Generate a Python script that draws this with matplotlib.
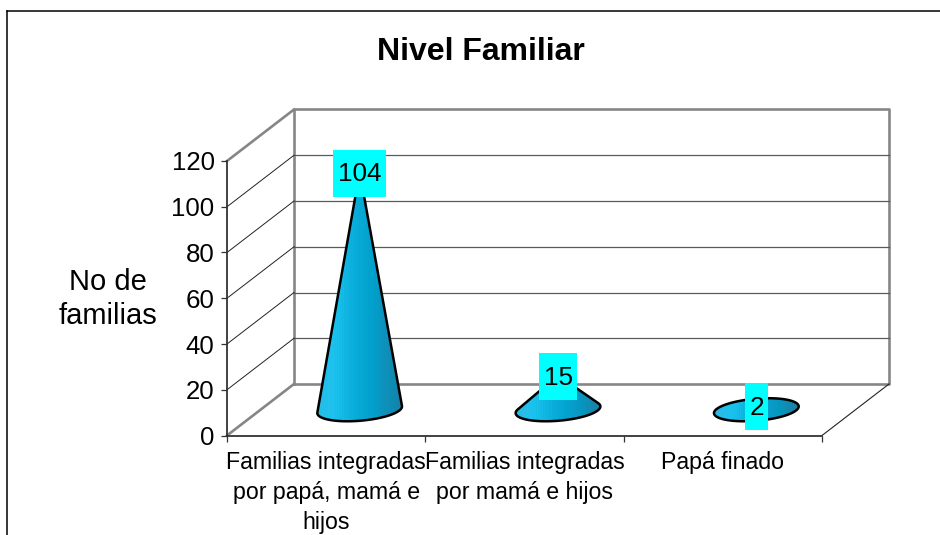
import numpy as np
import matplotlib
matplotlib.use('Agg')
import matplotlib.pyplot as plt
from matplotlib.colors import LinearSegmentedColormap
from matplotlib.lines import Line2D
from matplotlib.patches import Polygon, Rectangle

categories = ['Familias integradas\npor papá, mamá e\nhijos',
              'Familias integradas\npor mamá e hijos',
              'Papá finado']
values = [104, 15, 2]
y_ticks = [0, 20, 40, 60, 80, 100, 120]
title = 'Nivel Familiar'
y_label = 'No de\nfamilias'

W, H = 940, 535
plt.rcParams['font.family'] = ['Liberation Sans', 'DejaVu Sans']

fig = plt.figure(figsize=(W / 100, H / 100), dpi=100, facecolor='white')
# front plane of the fake 3d box
ax = fig.add_axes([227 / W, (H - 435.5) / H, 595 / W, 274.5 / H])
ax.set_xlim(0, 3)
ax.set_ylim(0, 120)
ax.patch.set_alpha(0)

# pixels per data unit, and depth of the box in data units
px_x = 595 / 3
px_y = 274.5 / 120
depth_x = 67 / px_x
depth_y = 51.5 / px_y

GRAY = '#868686'

# outer frame, cut by the picture on the right and at the bottom
fig.add_artist(Line2D([7.5 / W, 7.5 / W], [0, 1 - 10.5 / H], color='black', lw=1.1))
fig.add_artist(Line2D([7.5 / W, 1], [1 - 10.5 / H, 1 - 10.5 / H], color='black', lw=1.1))


def wall(xs, ys, color=GRAY, lw=1.9, z=1):
    ax.plot(xs, ys, color=color, lw=lw, clip_on=False, zorder=z, solid_capstyle='projecting')


# back wall and floor
wall([depth_x, depth_x, 3 + depth_x, 3 + depth_x, depth_x],
     [depth_y, 120 + depth_y, 120 + depth_y, depth_y, depth_y])
wall([0, depth_x], [120, 120 + depth_y])
wall([0, depth_x], [0, depth_y])
wall([3, 3 + depth_x], [0, depth_y], color='#222222', lw=0.8)

# gridlines on the back wall and the side wall
for t in y_ticks[1:-1]:
    wall([depth_x, 3 + depth_x], [t + depth_y, t + depth_y], color='#5a5a5a', lw=0.9)
    wall([0, depth_x], [t, t + depth_y], color='#222222', lw=0.7)

cone_cmap = LinearSegmentedColormap.from_list(
    'cone', ['#2cb9e2', '#1cc4f0', '#0cb0dc', '#02a4d0', '#0a93bd', '#1b7fa3'])

a_px, b_px = 42.5, 11.0
tilt = np.radians(4.8)
t_par = np.radians(np.arange(90, 451, 2))

for i, v in enumerate(values):
    cx = i + 0.5 + depth_x / 2
    cy = depth_y / 2
    ex = a_px * np.cos(t_par) * np.cos(tilt) - b_px * np.sin(t_par) * np.sin(tilt)
    ey = a_px * np.cos(t_par) * np.sin(tilt) + b_px * np.sin(t_par) * np.cos(tilt)
    tip_h = v * px_y
    if tip_h > b_px * 1.2:
        ang = np.arctan2(ex, tip_h - ey)
        i0, i1 = np.argmin(ang), np.argmax(ang)
        ox = np.r_[ex[i0:i1 + 1], 0]
        oy = np.r_[ey[i0:i1 + 1], tip_h]
    else:
        ox, oy = ex, ey
    pts = np.c_[cx + ox / px_x, cy + oy / px_y]

    shape = Polygon(pts, closed=True, transform=ax.transData, fc='none',
                    ec='black', lw=1.8, joinstyle='round', zorder=4, clip_on=False)
    u = np.linspace(0, 1, 340)
    # fine vertical streaks like the original gradient bands
    shade = np.clip(u + 0.06 * np.sin(u * 2 * np.pi * 38), 0, 1)
    im = ax.imshow(shade[None, :], cmap=cone_cmap, vmin=0, vmax=1, aspect='auto',
                   extent=[pts[:, 0].min(), pts[:, 0].max(), pts[:, 1].min(), pts[:, 1].max()],
                   zorder=3, interpolation='bilinear')
    ax.add_patch(shape)
    im.set_clip_path(shape)

    # value label on its cyan box, sitting on the tip
    box_w = (8 + 15 * len(str(v))) / px_x
    box_h = 47 / px_y
    lx, ly = cx, cy + v - 1.5 / px_y
    ax.add_patch(Rectangle((lx - box_w / 2, ly - box_h / 2), box_w, box_h, fc='#00ffff',
                           ec='none', zorder=5, clip_on=False))
    ax.text(lx + 0.5 / px_x, ly + 1.5 / px_y, str(v), ha='center', va='center_baseline',
            fontsize=18.8, color='black', zorder=6, clip_on=False)

ax.set_xlim(0, 3)
ax.set_ylim(0, 120)

# axes
for side in ['top', 'right']:
    ax.spines[side].set_visible(False)
for side in ['left', 'bottom']:
    ax.spines[side].set_color('#333333')
    ax.spines[side].set_linewidth(1.3)
    ax.spines[side].set_zorder(2)
ax.set_yticks(y_ticks)
ax.set_yticklabels([str(t) for t in y_ticks], fontsize=18.6)
ax.tick_params(axis='y', length=4, width=0.9, color='#333333', pad=5)
ax.set_xticks([0, 1, 2, 3])
ax.set_xticklabels([])
ax.tick_params(axis='x', which='major', length=4, width=0.9, color='#333333')
ax.set_xticks([0.5, 1.5, 2.5], minor=True)
ax.set_xticklabels(categories, minor=True, fontsize=16.7, linespacing=1.4)
ax.tick_params(axis='x', which='minor', length=0, pad=11)

fig.text(481 / W, 1 - 52 / H, title, ha='center', va='center', fontsize=23, fontweight='bold')
fig.text(108 / W, 1 - 299 / H, y_label, ha='center', va='center', fontsize=21, linespacing=1.3)

fig.savefig('out.png', dpi=100)
